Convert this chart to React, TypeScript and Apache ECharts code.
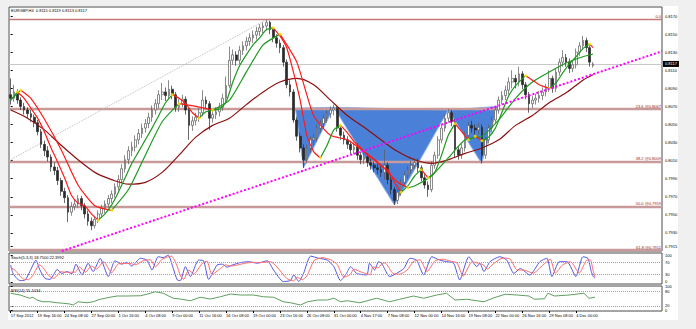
import { useEffect, useRef } from 'react';
import * as echarts from 'echarts';

const SLOTS = 194;
const FONT = '"Liberation Sans", Arial, sans-serif';

const headerText = 'EURGBP,H4  0.8115 0.8119 0.8113 0.8117';
const stochText = 'Stoch(5,3,3) 18.7500 22.3992';
const rsiText = 'RSI(14) 55.1034';

const xLabels = ['17 Sep 2012', '19 Sep 16:00', '24 Sep 08:00', '27 Sep 00:00', '1 Oct 16:00', '4 Oct 08:00',
  '9 Oct 00:00', '11 Oct 16:00', '16 Oct 08:00', '19 Oct 00:00', '23 Oct 16:00', '26 Oct 08:00', '31 Oct 00:00',
  '4 Nov 17:00', '7 Nov 08:00', '12 Nov 00:00', '14 Nov 16:00', '19 Nov 08:00', '22 Nov 00:00', '26 Nov 16:00',
  '29 Nov 08:00', '4 Dec 00:00'];
const LABEL_STEP = 8;

const priceTicks = [0.817, 0.815, 0.813, 0.811, 0.809, 0.807, 0.805, 0.803, 0.801, 0.799, 0.797, 0.795, 0.793, 0.7915];
// [position on the 0-100 scale, label text]: the end labels sit just inside the pane, as in the terminal
const stochTicks = [[92, '100'], [70, '70'], [30, '30'], [7, '0']];
const rsiTicks = [[98, '100'], [79, '80'], [21, '20'], [4, '0']];
const stochLevels = [30, 70];
const rsiLevels = [20, 80];

// [open, close, low, high]
const ohlc = [
  [0.8083, 0.8079, 0.8072, 0.8101], [0.8079, 0.8086, 0.8075, 0.8094], [0.8086, 0.8077, 0.8073, 0.8089], [0.8077, 0.8070, 0.8066, 0.8080], [0.8070, 0.8066, 0.8061, 0.8074],
  [0.8066, 0.8062, 0.8057, 0.8069], [0.8062, 0.8058, 0.8053, 0.8066], [0.8058, 0.8052, 0.8047, 0.8061], [0.8052, 0.8042, 0.8038, 0.8055], [0.8042, 0.8028, 0.8024, 0.8045],
  [0.8028, 0.8021, 0.8015, 0.8032], [0.8021, 0.8014, 0.8009, 0.8026], [0.8014, 0.8003, 0.7998, 0.8017], [0.8003, 0.7999, 0.7994, 0.8008], [0.7999, 0.7988, 0.7983, 0.8003],
  [0.7988, 0.7976, 0.7971, 0.7991], [0.7976, 0.7969, 0.7963, 0.7980], [0.7969, 0.7953, 0.7942, 0.7972], [0.7953, 0.7959, 0.7949, 0.7964], [0.7959, 0.7962, 0.7955, 0.7967],
  [0.7962, 0.7968, 0.7958, 0.7972], [0.7968, 0.7960, 0.7955, 0.7971], [0.7960, 0.7951, 0.7946, 0.7963], [0.7951, 0.7943, 0.7938, 0.7955], [0.7943, 0.7938, 0.7933, 0.7947],
  [0.7938, 0.7945, 0.7935, 0.7949], [0.7945, 0.7951, 0.7941, 0.7955], [0.7951, 0.7957, 0.7947, 0.7961], [0.7957, 0.7962, 0.7952, 0.7966], [0.7962, 0.7968, 0.7958, 0.7972],
  [0.7968, 0.7973, 0.7963, 0.7977], [0.7973, 0.7981, 0.7969, 0.7985], [0.7981, 0.7989, 0.7977, 0.7994], [0.7989, 0.8001, 0.7985, 0.8006], [0.8001, 0.8011, 0.7997, 0.8016],
  [0.8011, 0.8021, 0.8006, 0.8026], [0.8021, 0.8025, 0.8015, 0.8031], [0.8025, 0.8033, 0.8020, 0.8038], [0.8033, 0.8040, 0.8028, 0.8045], [0.8040, 0.8046, 0.8035, 0.8051],
  [0.8046, 0.8051, 0.8041, 0.8056], [0.8051, 0.8058, 0.8046, 0.8063], [0.8058, 0.8066, 0.8053, 0.8071], [0.8066, 0.8073, 0.8061, 0.8078], [0.8073, 0.8083, 0.8068, 0.8088],
  [0.8083, 0.8086, 0.8077, 0.8096], [0.8086, 0.8082, 0.8076, 0.8091], [0.8082, 0.8089, 0.8078, 0.8099], [0.8089, 0.8083, 0.8078, 0.8093], [0.8083, 0.8069, 0.8064, 0.8086],
  [0.8069, 0.8073, 0.8064, 0.8078], [0.8073, 0.8078, 0.8069, 0.8083], [0.8078, 0.8066, 0.8061, 0.8081], [0.8066, 0.8049, 0.8033, 0.8069], [0.8049, 0.8054, 0.8043, 0.8059],
  [0.8054, 0.8058, 0.8049, 0.8063], [0.8058, 0.8063, 0.8053, 0.8068], [0.8063, 0.8077, 0.8059, 0.8088], [0.8077, 0.8073, 0.8067, 0.8081], [0.8073, 0.8057, 0.8044, 0.8076],
  [0.8057, 0.8061, 0.8052, 0.8066], [0.8061, 0.8064, 0.8056, 0.8069], [0.8064, 0.8069, 0.8059, 0.8074], [0.8069, 0.8079, 0.8065, 0.8084], [0.8079, 0.8093, 0.8075, 0.8103],
  [0.8093, 0.8121, 0.8090, 0.8136], [0.8121, 0.8127, 0.8116, 0.8133], [0.8127, 0.8121, 0.8115, 0.8131], [0.8121, 0.8132, 0.8117, 0.8137], [0.8132, 0.8137, 0.8127, 0.8142],
  [0.8137, 0.8142, 0.8132, 0.8147], [0.8142, 0.8146, 0.8137, 0.8151], [0.8146, 0.8149, 0.8140, 0.8154], [0.8149, 0.8153, 0.8144, 0.8158], [0.8153, 0.8157, 0.8148, 0.8161],
  [0.8157, 0.8159, 0.8151, 0.8163], [0.8159, 0.8163, 0.8154, 0.8166], [0.8163, 0.8155, 0.8150, 0.8165], [0.8155, 0.8146, 0.8141, 0.8158], [0.8146, 0.8140, 0.8135, 0.8150],
  [0.8140, 0.8135, 0.8129, 0.8144], [0.8135, 0.8119, 0.8114, 0.8138], [0.8119, 0.8094, 0.8090, 0.8122], [0.8094, 0.8086, 0.8081, 0.8099], [0.8086, 0.8055, 0.8052, 0.8089],
  [0.8055, 0.8037, 0.8032, 0.8058], [0.8037, 0.8024, 0.8019, 0.8041], [0.8024, 0.8011, 0.8002, 0.8028], [0.8011, 0.8024, 0.8007, 0.8028], [0.8024, 0.8033, 0.8019, 0.8037],
  [0.8033, 0.8035, 0.8027, 0.8040], [0.8035, 0.8046, 0.8031, 0.8050], [0.8046, 0.8051, 0.8041, 0.8055], [0.8051, 0.8057, 0.8046, 0.8061], [0.8057, 0.8062, 0.8052, 0.8066],
  [0.8062, 0.8066, 0.8057, 0.8070], [0.8066, 0.8068, 0.8060, 0.8072], [0.8068, 0.8046, 0.8042, 0.8070], [0.8046, 0.8038, 0.8033, 0.8050], [0.8038, 0.8033, 0.8028, 0.8042],
  [0.8033, 0.8028, 0.8023, 0.8037], [0.8028, 0.8022, 0.8017, 0.8032], [0.8022, 0.8025, 0.8017, 0.8030], [0.8025, 0.8016, 0.8011, 0.8029], [0.8016, 0.8011, 0.8006, 0.8020],
  [0.8011, 0.8014, 0.8006, 0.8019], [0.8014, 0.8008, 0.8003, 0.8018], [0.8008, 0.8005, 0.8000, 0.8012], [0.8005, 0.8002, 0.7997, 0.8009], [0.8002, 0.8000, 0.7995, 0.8006],
  [0.8000, 0.7997, 0.7992, 0.8004], [0.7997, 0.8005, 0.7989, 0.8022], [0.8005, 0.7989, 0.7984, 0.8008], [0.7989, 0.7978, 0.7973, 0.7992], [0.7978, 0.7966, 0.7961, 0.7981],
  [0.7966, 0.7975, 0.7962, 0.7979], [0.7975, 0.7986, 0.7971, 0.7990], [0.7986, 0.7994, 0.7982, 0.7998], [0.7994, 0.8000, 0.7990, 0.8004], [0.8000, 0.8005, 0.7996, 0.8010],
  [0.8005, 0.8008, 0.8001, 0.8013], [0.8008, 0.8002, 0.7997, 0.8012], [0.8002, 0.7991, 0.7987, 0.8005], [0.7991, 0.7983, 0.7979, 0.7995], [0.7983, 0.7978, 0.7970, 0.7987],
  [0.7978, 0.8005, 0.7975, 0.8009], [0.8005, 0.8016, 0.8001, 0.8020], [0.8016, 0.8033, 0.8012, 0.8037], [0.8033, 0.8046, 0.8029, 0.8050], [0.8046, 0.8057, 0.8042, 0.8061],
  [0.8057, 0.8063, 0.8052, 0.8067], [0.8063, 0.8053, 0.8048, 0.8066], [0.8053, 0.8022, 0.8013, 0.8056], [0.8022, 0.8016, 0.8011, 0.8026], [0.8016, 0.8024, 0.8012, 0.8029],
  [0.8024, 0.8038, 0.8020, 0.8042], [0.8038, 0.8049, 0.8034, 0.8053], [0.8049, 0.8046, 0.8041, 0.8054], [0.8046, 0.8044, 0.8039, 0.8050], [0.8044, 0.8047, 0.8039, 0.8052],
  [0.8047, 0.8016, 0.8007, 0.8050], [0.8016, 0.8033, 0.8012, 0.8037], [0.8033, 0.8046, 0.8029, 0.8050], [0.8046, 0.8055, 0.8041, 0.8059], [0.8055, 0.8066, 0.8051, 0.8070],
  [0.8066, 0.8077, 0.8062, 0.8081], [0.8077, 0.8082, 0.8072, 0.8087], [0.8082, 0.8088, 0.8077, 0.8093], [0.8088, 0.8097, 0.8083, 0.8102], [0.8097, 0.8101, 0.8090, 0.8110],
  [0.8101, 0.8097, 0.8090, 0.8105], [0.8097, 0.8106, 0.8092, 0.8114], [0.8106, 0.8094, 0.8089, 0.8109], [0.8094, 0.8083, 0.8078, 0.8097], [0.8083, 0.8073, 0.8063, 0.8086],
  [0.8073, 0.8077, 0.8068, 0.8082], [0.8077, 0.8079, 0.8072, 0.8084], [0.8079, 0.8082, 0.8074, 0.8087], [0.8082, 0.8086, 0.8077, 0.8091], [0.8086, 0.8090, 0.8081, 0.8095],
  [0.8090, 0.8101, 0.8086, 0.8110], [0.8101, 0.8090, 0.8085, 0.8104], [0.8090, 0.8108, 0.8086, 0.8112], [0.8108, 0.8119, 0.8104, 0.8123], [0.8119, 0.8124, 0.8114, 0.8132],
  [0.8124, 0.8119, 0.8114, 0.8128], [0.8119, 0.8112, 0.8107, 0.8123], [0.8112, 0.8116, 0.8108, 0.8121], [0.8116, 0.8130, 0.8112, 0.8134], [0.8130, 0.8137, 0.8126, 0.8141],
  [0.8137, 0.8143, 0.8133, 0.8148], [0.8143, 0.8135, 0.8130, 0.8146], [0.8135, 0.8119, 0.8114, 0.8138], [0.8115, 0.8117, 0.8113, 0.8119],
];

// moving averages: [bar index, price]
const maFast = [
  [0, 0.8077], [2, 0.8086], [4, 0.8079], [6, 0.8068], [8, 0.8057], [10, 0.8042], [12, 0.8024], [14, 0.8008], [16, 0.7991], [18, 0.7972],
  [20, 0.7963], [22, 0.7960], [24, 0.7951], [26, 0.7944], [28, 0.7951], [30, 0.7961], [32, 0.7975], [34, 0.7991], [36, 0.8007], [38, 0.8020],
  [40, 0.8033], [42, 0.8046], [44, 0.8060], [46, 0.8074], [48, 0.8083], [50, 0.8079], [52, 0.8073], [54, 0.8063], [56, 0.8057], [58, 0.8064],
  [60, 0.8066], [62, 0.8067], [64, 0.8075], [66, 0.8097], [68, 0.8115], [70, 0.8127], [72, 0.8138], [74, 0.8146], [76, 0.8155], [78, 0.8157],
  [80, 0.8148], [82, 0.8135], [84, 0.8108], [86, 0.8077], [88, 0.8038], [90, 0.8020], [92, 0.8013], [94, 0.8027], [96, 0.8044], [98, 0.8049],
  [100, 0.8041], [102, 0.8031], [104, 0.8024], [106, 0.8016], [108, 0.8011], [110, 0.8004], [112, 0.8000], [114, 0.7986], [116, 0.7975], [118, 0.7982],
  [120, 0.7993], [122, 0.8000], [124, 0.7991], [126, 0.7997], [128, 0.8016], [130, 0.8038], [132, 0.8051], [134, 0.8042], [136, 0.8033], [138, 0.8037],
  [140, 0.8032], [142, 0.8036], [144, 0.8046], [146, 0.8064], [148, 0.8082], [150, 0.8093], [153, 0.8104], [155, 0.8099], [157, 0.8094], [160, 0.8090],
  [162, 0.8096], [164, 0.8107], [166, 0.8117], [168, 0.8125], [170, 0.8134], [172, 0.8139], [173, 0.8135],
];
const maMid = [
  [0, 0.8077], [3, 0.8088], [6, 0.8079], [10, 0.8056], [15, 0.8022], [20, 0.7983], [25, 0.7960], [30, 0.7955], [35, 0.7978], [40, 0.8016],
  [45, 0.8053], [50, 0.8073], [55, 0.8070], [60, 0.8066], [65, 0.8077], [70, 0.8108], [75, 0.8138], [80, 0.8150], [85, 0.8119], [90, 0.8060],
  [95, 0.8038], [100, 0.8033], [105, 0.8020], [110, 0.8005], [115, 0.7986], [118, 0.7980], [120, 0.7982], [125, 0.7993], [130, 0.8013], [135, 0.8033],
  [140, 0.8037], [145, 0.8055], [150, 0.8079], [155, 0.8097], [160, 0.8108], [165, 0.8118], [170, 0.8125], [173, 0.8128],
];
const maSlow = [
  [0, 0.8066], [5, 0.8057], [10, 0.8044], [15, 0.8027], [20, 0.8011], [25, 0.7997], [30, 0.7989], [35, 0.7984], [40, 0.7986], [45, 0.7997],
  [50, 0.8016], [55, 0.8036], [60, 0.8049], [65, 0.8057], [70, 0.8072], [75, 0.8086], [80, 0.8097], [85, 0.8101], [90, 0.8094], [95, 0.8077],
  [100, 0.8060], [105, 0.8047], [110, 0.8033], [115, 0.8020], [120, 0.8011], [125, 0.8007], [130, 0.8011], [135, 0.8018], [140, 0.8024], [145, 0.8033],
  [150, 0.8049], [155, 0.8060], [160, 0.8074], [165, 0.8085], [170, 0.8099], [173, 0.8105],
];

const stochMain = [
  [0, 61], [0.7, 34], [1.8, 18], [2.8, 11], [4.3, 13], [5.7, 40], [7.5, 77], [8.7, 45], [10.2, 18], [11.7, 15],
  [12.7, 29], [13.8, 47], [15.2, 34], [16.7, 40], [18.2, 33], [19.4, 64], [21.2, 29], [23, 67], [24.5, 40], [26.6, 83],
  [29, 24], [31, 75], [33, 64], [34.5, 70], [36, 58], [38.5, 83], [40.5, 77], [42, 45], [43.8, 88], [45.3, 85],
  [46.8, 93], [48.3, 50], [49.5, 13], [50.4, 11], [51.9, 56], [53.4, 24], [55.8, 77], [57.3, 75], [58.8, 15], [61.3, 61],
  [62.9, 64], [64.3, 54], [65.8, 61], [68.2, 69], [70.7, 72], [73.3, 67], [76.2, 75], [78.1, 45], [81, 8], [83.1, 11],
  [84.1, 29], [85.6, 8], [87, 34], [89.1, 90], [91.5, 83], [94.1, 77], [96, 56], [98, 11], [99.8, 35], [101, 56],
  [102.8, 34], [105.8, 29], [106.6, 67], [108.1, 45], [109.3, 72], [110.2, 67], [112.6, 24], [114.6, 34], [116.8, 50], [118.6, 83],
  [120.6, 77], [122.7, 29], [125.1, 88], [127.5, 77], [129.5, 72], [131.6, 67], [133.4, 13], [136.1, 88], [138.5, 56], [139.4, 67],
  [140.6, 40], [142.4, 72], [145.3, 88], [147.4, 77], [149.5, 34], [151.4, 50], [154.2, 29], [157.2, 72], [159.3, 83], [160.8, 24],
  [163, 72], [165.3, 72], [167.9, 24], [170, 88], [171.5, 83], [172.5, 40], [173.1, 24], [173.6, 18.75],
];
const stochSignal = [
  [0, 55], [1.7, 40], [2.8, 25], [3.8, 16], [5.3, 14], [6.7, 30], [8.5, 62], [9.7, 52], [11.2, 28], [12.7, 18],
  [13.7, 26], [14.8, 40], [16.2, 38], [17.7, 38], [19.2, 38], [20.4, 55], [22.2, 38], [24, 58], [25.5, 48], [27.6, 72],
  [30, 36], [32, 65], [34, 66], [35.5, 66], [37, 62], [39.5, 76], [41.5, 78], [43, 55], [44.8, 78], [46.3, 86],
  [47.8, 90], [49.3, 62], [50.5, 25], [51.4, 15], [52.9, 45], [54.4, 32], [56.8, 65], [58.3, 74], [59.8, 30], [62.3, 50],
  [63.9, 62], [65.3, 58], [66.8, 60], [69.2, 66], [71.7, 70], [74.3, 69], [77.2, 72], [79.1, 55], [82, 18], [84.1, 10],
  [85.1, 22], [86.6, 14], [88, 26], [90.1, 75], [92.5, 85], [95.1, 78], [97, 63], [99, 22], [100.8, 30], [102, 48],
  [103.8, 40], [106.8, 30], [107.6, 55], [109.1, 52], [110.3, 65], [111.2, 68], [113.6, 34], [115.6, 32], [117.8, 45], [119.6, 72],
  [121.6, 78], [123.7, 40], [126.1, 75], [128.5, 80], [130.5, 74], [132.6, 68], [134.4, 25], [137.1, 72], [139.5, 65], [140.4, 62],
  [141.6, 48], [143.4, 65], [146.3, 84], [148.4, 80], [150.5, 45], [152.4, 45], [155.2, 35], [158.2, 62], [160.3, 80], [161.8, 35],
  [164, 62], [166.3, 72], [168.9, 35], [171, 76], [172.2, 78], [173, 45], [173.6, 22.4],
];
const rsiLine = [
  [0, 71], [2.8, 64], [4.3, 57], [5.7, 51], [6.6, 55], [7.8, 44], [9.6, 37], [11.7, 37], [13.8, 33], [15.6, 31],
  [17.6, 28], [18.6, 24], [20, 37], [22.7, 33], [24.5, 37], [26.6, 47], [29.5, 55], [31.6, 60], [34.6, 60], [38.5, 61],
  [40.5, 67], [43, 77], [45.3, 71], [48.3, 51], [50.4, 48], [53.4, 41], [56.3, 55], [59.3, 48], [62.3, 57], [65.3, 68],
  [68.2, 64], [72.1, 64], [75.1, 57], [78.1, 55], [81, 37], [83.1, 33], [86.1, 24], [88.2, 37], [91.2, 44], [94.1, 44],
  [96, 51], [98, 37], [100, 41], [103.7, 33], [108.7, 51], [112.6, 37], [115.6, 47], [119.7, 60], [122.7, 51], [126.6, 64],
  [129.5, 71], [132, 44], [135.5, 47], [140.6, 37], [143.6, 53], [146.9, 67], [150.4, 64], [154, 60], [155.6, 47], [158.6, 49],
  [159.6, 71], [161.6, 60], [165.9, 64], [170.3, 71], [171.8, 51], [173.6, 55.1],
];

const fibLevels = [0.8166, 0.8067, 0.8009, 0.7959, 0.7911];
const fibNames = ['0.0', '23.6 @0.8067', '38.2 @0.8009', '50.0 @0.7959', '61.8 @0.7911'];
const lastPrice = 0.8117;
const trendLine = [[15.2, 0.791], [193.5, 0.8131]];
const fibBaseline = [[-0.5, 0.801], [76, 0.8166]];
const leftShoulder = [[84.6, 0.8068], [87, 0.8002], [96, 0.8069]];
const headTriangle = [[96, 0.8069], [114, 0.7961], [130, 0.8066]];
const rightShoulder = [[130, 0.8066], [139.9, 0.8007], [144.7, 0.807]];

const RED = '#ff1a1a';
const GREEN = '#1e9a1e';

function segments(knots: number[][]) {
  const segs: { up: boolean; pts: number[][] }[] = [];
  let cur: { up: boolean; pts: number[][] } | null = null;
  for (let k = 1; k < knots.length; k++) {
    const up = knots[k][1] >= knots[k - 1][1];
    if (!cur || cur.up !== up) {
      cur = { up, pts: [knots[k - 1]] };
      segs.push(cur);
    }
    cur.pts.push(knots[k]);
  }
  return segs;
}

function colouredMA(knots: number[][], width: number) {
  const segs = segments(knots);
  const series: any[] = segs.map((s) => ({
    type: 'line', xAxisIndex: 1, yAxisIndex: 0, data: s.pts, showSymbol: false, smooth: 0.2,
    lineStyle: { color: s.up ? GREEN : RED, width }, z: 5, silent: true,
  }));
  series.push({
    type: 'scatter', xAxisIndex: 1, yAxisIndex: 0, data: segs.slice(1).map((s) => s.pts[0]),
    symbol: 'circle', symbolSize: 3, itemStyle: { color: '#ffe800' }, z: 6, silent: true,
  });
  return series;
}

function tinyText(left: number, top: number, text: string) {
  return { type: 'text', left, top, silent: true, style: { text, fill: '#000', font: `4px ${FONT}` }, z: 10 };
}

function buildOption() {
  const categories = ohlc.map((_, i) => 'c' + i).concat(Array.from({ length: SLOTS - ohlc.length }, (_, k) => 'e' + k));
  const gridBase = { left: 9, right: 34, show: true, borderColor: '#4a4a4a', borderWidth: 1, containLabel: false };
  const hiddenValueX = (gridIndex: number) => ({
    type: 'value', gridIndex, min: -0.5, max: SLOTS - 0.5, show: false,
  });
  const smallLabel = { fontSize: 4, lineHeight: 4, color: '#000', fontFamily: FONT, margin: 3 };
  const triangles = [leftShoulder, headTriangle, rightShoulder].map((t) => [t[0][0], t[0][1], t[1][0], t[1][1], t[2][0], t[2][1]]);
  const indicatorAxis = (gridIndex: number, ticks: (string | number)[][]) => {
    const vals = ticks.map((t) => t[0] as number);
    return {
      type: 'value', gridIndex, position: 'right', min: 0, max: 100,
      axisLine: { show: false }, splitLine: { show: false },
      axisTick: { show: true, length: 2, customValues: vals, lineStyle: { color: '#000' } },
      axisLabel: {
        ...smallLabel, customValues: vals,
        formatter: (v: number) => String(ticks.find((t) => Math.abs((t[0] as number) - v) < 1e-6)?.[1] ?? ''),
      },
    };
  };

  const fibMarks: any[] = fibLevels.map((lv, k) => ({
    yAxis: lv,
    lineStyle: { color: k === 0 ? '#c47a7a' : '#c99a9a', width: k === 0 ? 1.3 : 2.4, type: 'solid' },
    label: {
      show: true, position: 'insideEndTop', formatter: fibNames[k], distance: 1,
      fontSize: 4, lineHeight: 4, color: '#a02020', fontFamily: FONT,
    },
  }));
  fibMarks.push({
    yAxis: lastPrice,
    lineStyle: { color: '#c8c8c8', width: 1, type: 'solid' },
    label: {
      show: true, position: 'end', formatter: lastPrice.toFixed(4), distance: 1,
      fontSize: 4, lineHeight: 4, color: '#ffffff', backgroundColor: '#000000', padding: [1, 2], fontFamily: FONT,
    },
  });

  return {
    animation: false,
    backgroundColor: '#f0f0f0',
    graphic: [
      { type: 'rect', shape: { x: 8, y: 6, width: 670, height: 314 }, style: { fill: '#ffffff' }, z: -10, silent: true },
      tinyText(11, 8, headerText),
      tinyText(11, 255, stochText),
      tinyText(11, 288, rsiText),
    ],
    grid: [
      { ...gridBase, top: 7, height: 244 },
      { ...gridBase, top: 253, height: 31 },
      { ...gridBase, top: 286, height: 25 },
    ],
    xAxis: [
      { type: 'category', gridIndex: 0, data: categories, show: false, boundaryGap: true },
      hiddenValueX(0),
      hiddenValueX(1),
      {
        type: 'value', gridIndex: 2, min: -0.5, max: SLOTS - 0.5, position: 'bottom',
        axisLine: { show: false }, splitLine: { show: false },
        axisTick: { show: true, length: 2, customValues: xLabels.map((_, k) => k * LABEL_STEP), lineStyle: { color: '#000' } },
        axisLabel: {
          ...smallLabel, margin: 2, align: 'left',
          customValues: xLabels.map((_, k) => k * LABEL_STEP),
          formatter: (v: number) => xLabels[Math.round(v / LABEL_STEP)] ?? '',
        },
      },
    ],
    yAxis: [
      {
        type: 'value', gridIndex: 0, position: 'right', min: 0.791, max: 0.818,
        axisLine: { show: false }, splitLine: { show: false },
        axisTick: { show: true, length: 2, customValues: priceTicks, lineStyle: { color: '#000' } },
        axisLabel: { ...smallLabel, customValues: priceTicks, formatter: (v: number) => v.toFixed(4) },
      },
      indicatorAxis(1, stochTicks),
      indicatorAxis(2, rsiTicks),
    ],
    series: [
      {
        type: 'custom', xAxisIndex: 1, yAxisIndex: 0, data: triangles, z: 1, silent: true,
        encode: { x: [0, 2, 4], y: [1, 3, 5] },
        renderItem: (_params: any, api: any) => {
          const pts = [0, 1, 2].map((k) => api.coord([api.value(k * 2), api.value(k * 2 + 1)]));
          return { type: 'polygon', shape: { points: pts }, style: { fill: '#4a80d8', stroke: '#86aee8', lineWidth: 1 } };
        },
      },
      {
        type: 'line', xAxisIndex: 1, yAxisIndex: 0, data: fibBaseline, showSymbol: false, silent: true, z: 2,
        lineStyle: { color: '#b8b8b8', width: 1, type: 'dotted' },
      },
      {
        type: 'candlestick', xAxisIndex: 0, yAxisIndex: 0, data: ohlc, barWidth: 2.2, z: 3, silent: true,
        itemStyle: { color: '#ffffff', color0: '#2a2a2a', borderColor: '#5a5a5a', borderColor0: '#2a2a2a', borderWidth: 0.7 },
        markLine: { silent: true, symbol: 'none', animation: false, precision: 5, z: 2, data: fibMarks },
      },
      {
        type: 'line', xAxisIndex: 1, yAxisIndex: 0, data: maSlow, showSymbol: false, smooth: 0.3, silent: true, z: 4,
        lineStyle: { color: '#8b1010', width: 1.2 },
      },
      ...colouredMA(maMid, 1.2),
      ...colouredMA(maFast, 1.2),
      {
        type: 'line', xAxisIndex: 1, yAxisIndex: 0, data: trendLine, showSymbol: false, silent: true, z: 7,
        lineStyle: { color: '#ff00ff', width: 2, type: 'dotted' },
      },
      {
        type: 'line', xAxisIndex: 2, yAxisIndex: 1, data: stochMain, showSymbol: false, smooth: 0.2, silent: true,
        lineStyle: { color: '#5555e0', width: 1 },
        markLine: {
          silent: true, symbol: 'none', label: { show: false }, precision: 3,
          lineStyle: { color: '#a0a0a0', width: 1, type: 'dotted' },
          data: stochLevels.map((v) => ({ yAxis: v })),
        },
      },
      {
        type: 'line', xAxisIndex: 2, yAxisIndex: 1, data: stochSignal, showSymbol: false, smooth: 0.2, silent: true,
        lineStyle: { color: '#ff6a6a', width: 1 },
      },
      {
        type: 'line', xAxisIndex: 3, yAxisIndex: 2, data: rsiLine, showSymbol: false, silent: true,
        lineStyle: { color: '#5e9e5e', width: 1 },
        markLine: {
          silent: true, symbol: 'none', label: { show: false }, precision: 3,
          lineStyle: { color: '#a0a0a0', width: 1, type: 'dotted' },
          data: rsiLevels.map((v) => ({ yAxis: v })),
        },
      },
    ],
  };
}

export default function App() {
  const ref = useRef<HTMLDivElement>(null);
  useEffect(() => {
    if (!ref.current) return;
    const chart = echarts.init(ref.current, null, { renderer: 'svg' });
    chart.setOption(buildOption() as any);
    return () => chart.dispose();
  }, []);
  return (
    <div style={{ position: 'fixed', left: 0, top: 0, width: 696, height: 329, background: '#f0f0f0' }}>
      <div ref={ref} style={{ width: 696, height: 329 }} />
    </div>
  );
}
